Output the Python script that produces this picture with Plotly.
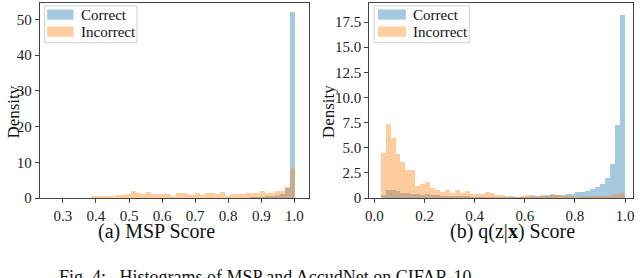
import numpy as np
import plotly.graph_objects as go

W, H = 640, 278
FONT = "Liberation Serif"

# ---------------- data ----------------
# (a) MSP score histogram: 50 bins on [0.25, 1.0]
msp_bin_start = 0.25
msp_bin_width = 0.015
msp_correct = [0.0, 0.0, 0.0, 0.0, 0.0, 0.0, 0.0, 0.01, 0.01, 0.01,
               0.01, 0.01, 0.01, 0.02, 0.02, 0.02, 0.02, 0.02, 0.03, 0.03,
               0.03, 0.03, 0.03, 0.04, 0.04, 0.04, 0.05, 0.05, 0.05, 0.06,
               0.06, 0.07, 0.07, 0.08, 0.09, 0.1, 0.1, 0.12, 0.14, 0.16,
               0.2, 0.25, 0.3, 0.4, 0.5, 0.6, 0.8, 1.3, 2.8, 52.0]
msp_incorrect = [0.0, 0.0, 0.0, 0.03, 0.03, 0.05, 0.05, 0.1, 0.2, 0.5,
                 0.55, 0.6, 0.7, 0.75, 0.9, 0.9, 1.3, 2.1, 1.4, 1.3,
                 1.7, 1.1, 1.1, 1.05, 1.1, 0.65, 1.45, 1.45, 1.2, 0.9,
                 1.35, 0.9, 1.35, 1.35, 1.3, 1.8, 0.75, 1.2, 1.2, 1.15,
                 1.4, 1.45, 1.5, 1.9, 1.5, 1.6, 1.95, 2.1, 3.0, 8.1]

# (b) q(z|x) score histogram: 49 bins on [0.025, 1.0]
q_bin_start = 0.025
q_bin_width = 0.0199
q_correct = [0.3, 0.8, 0.8, 0.7, 0.55, 0.5, 0.45, 0.4, 0.35, 0.4,
             0.3, 0.3, 0.25, 0.22, 0.2, 0.2, 0.18, 0.18, 0.17, 0.16,
             0.16, 0.15, 0.15, 0.15, 0.14, 0.14, 0.14, 0.15, 0.15, 0.17,
             0.2, 0.22, 0.25, 0.28, 0.3, 0.32, 0.35, 0.38, 0.42, 0.57,
             0.64, 0.73, 0.9, 1.1, 1.43, 2.0, 3.4, 7.3, 18.2]
q_incorrect = [4.45, 7.4, 5.95, 4.35, 3.55, 2.8, 2.8, 1.2, 1.4, 1.6,
               1.0, 0.8, 0.6, 0.8, 0.5, 0.85, 0.5, 0.7, 0.45, 0.4,
               0.45, 0.64, 0.55, 0.35, 0.3, 0.2, 0.2, 0.15, 0.25, 0.3,
               0.3, 0.15, 0.35, 0.2, 0.45, 0.3, 0.25, 0.2, 0.25, 0.15,
               0.2, 0.25, 0.2, 0.25, 0.2, 0.25, 0.3, 0.4, 0.55]

msp_xticks = [0.3, 0.4, 0.5, 0.6, 0.7, 0.8, 0.9, 1.0]
msp_yticks = [0, 10, 20, 30, 40, 50]
q_xticks = [0.0, 0.2, 0.4, 0.6, 0.8, 1.0]
q_yticks = [0, 2.5, 5.0, 7.5, 10.0, 12.5, 15.0, 17.5]
q_yticklabels = ["0", "2.5", "5.0", "7.5", "10.0", "12.5", "15.0", "17.5"]

labels = ["Correct", "Incorrect"]
colors = ["rgba(31,119,180,0.4)", "rgba(255,127,14,0.4)"]

# ---------------- figure ----------------
def centers(start, width, n):
    return [start + width * (i + 0.5) for i in range(n)]

fig = go.Figure()
msp_x = centers(msp_bin_start, msp_bin_width, len(msp_correct))
q_x = centers(q_bin_start, q_bin_width, len(q_correct))

for vals, col, name in [(msp_correct, colors[0], labels[0]), (msp_incorrect, colors[1], labels[1])]:
    fig.add_trace(go.Bar(x=msp_x, y=vals, width=msp_bin_width, name=name,
                         marker=dict(color=col, line=dict(width=0)),
                         xaxis="x", yaxis="y", showlegend=False))
for vals, col, name in [(q_correct, colors[0], labels[0]), (q_incorrect, colors[1], labels[1])]:
    fig.add_trace(go.Bar(x=q_x, y=vals, width=q_bin_width, name=name,
                         marker=dict(color=col, line=dict(width=0)),
                         xaxis="x2", yaxis="y2", showlegend=False))

def px2x(px):
    return px / W

def py2y(py):
    return 1 - py / H

ydom = [py2y(204), py2y(3)]
axcommon = dict(showline=True, linecolor="#444", linewidth=1, mirror=True,
                ticks="outside", ticklen=4, tickcolor="#444", showgrid=False,
                zeroline=False, tickfont=dict(family=FONT, size=15, color="#222"))

fig.update_layout(
    width=W, height=H, margin=dict(l=0, r=0, t=0, b=0),
    paper_bgcolor="white", plot_bgcolor="white", barmode="overlay", bargap=0,
    xaxis=dict(domain=[px2x(36), px2x(307)], range=[0.23, 1.043],
               tickvals=msp_xticks, ticktext=[f"{v:.1f}" for v in msp_xticks],
               anchor="y", **axcommon),
    yaxis=dict(domain=ydom, range=[0, 54.6], tickvals=msp_yticks,
               anchor="x", **axcommon),
    xaxis2=dict(domain=[px2x(368), px2x(634)], range=[-0.021, 1.0316],
                tickvals=q_xticks, ticktext=[f"{v:.1f}" for v in q_xticks],
                anchor="y2", **axcommon),
    yaxis2=dict(domain=ydom, range=[0, 19.4], tickvals=q_yticks,
                ticktext=q_yticklabels, anchor="x2", **axcommon),
)

ann = []
shapes = []
# axis titles
ann.append(dict(text="Density", x=px2x(10), y=py2y(115), textangle=-90,
                font=dict(family=FONT, size=17, color="#111")))
ann.append(dict(text="Density", x=px2x(327), y=py2y(115), textangle=-90,
                font=dict(family=FONT, size=17, color="#111")))
ann.append(dict(text="(a) MSP Score", x=px2x(154), y=py2y(238),
                font=dict(family=FONT, size=20, color="#111")))
ann.append(dict(text="(b) q(z|<b>x</b>) Score", x=px2x(512), y=py2y(238),
                font=dict(family=FONT, size=20, color="#111")))
# caption (cut off at bottom)
ann.append(dict(text="Fig. 4:   Histograms of MSP and AccudNet on CIFAR-10",
                x=px2x(53), y=py2y(273), xanchor="left", yanchor="top",
                font=dict(family=FONT, size=18, color="#111")))

# legends
for (bx0, bx1, patch0, patch1, tx) in [(41, 134, 43.5, 70, 76), (373, 469, 377, 405, 410.5)]:
    shapes.append(dict(type="rect", xref="paper", yref="paper",
                       x0=px2x(bx0), x1=px2x(bx1), y0=py2y(44), y1=py2y(6),
                       line=dict(color="#d0d0d0", width=1),
                       fillcolor="rgba(255,255,255,0.8)", layer="above"))
    for k, (lab, col) in enumerate(zip(labels, colors)):
        yc = 15 + 17.5 * k
        shapes.append(dict(type="rect", xref="paper", yref="paper",
                           x0=px2x(patch0), x1=px2x(patch1),
                           y0=py2y(yc + 5.3), y1=py2y(yc - 5.3),
                           line=dict(width=0), fillcolor=col, layer="above"))
        ann.append(dict(text=lab, x=px2x(tx), y=py2y(yc), xanchor="left",
                        font=dict(family=FONT, size=15, color="#111")))

for a in ann:
    a.setdefault("xref", "paper")
    a.setdefault("yref", "paper")
    a.setdefault("showarrow", False)
    a.setdefault("xanchor", "center")
    a.setdefault("yanchor", "middle")

fig.update_layout(annotations=ann, shapes=shapes)

fig.write_html("out.html", config={"displayModeBar": False},
               post_script="document.body.style.margin='0';")
